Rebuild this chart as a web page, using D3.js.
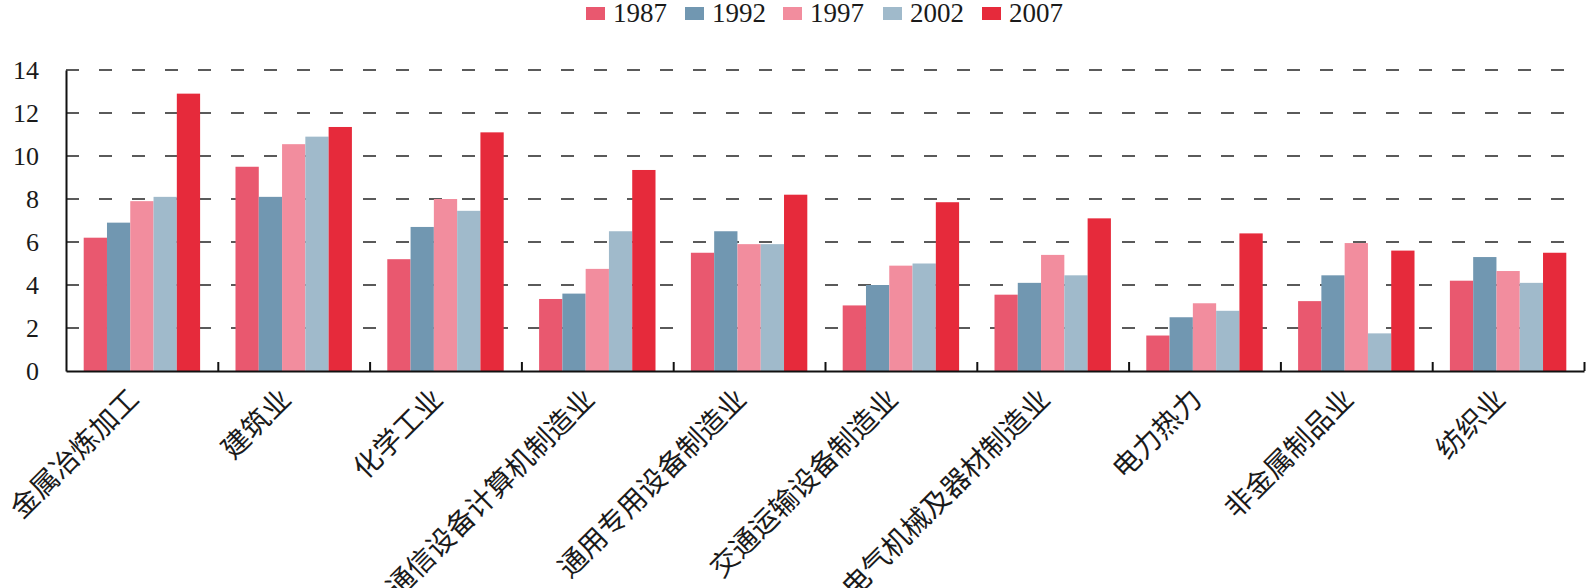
<!DOCTYPE html>
<html>
<head>
<meta charset="utf-8">
<script src="https://cdn.jsdelivr.net/npm/d3@7"></script>
<style>
  body { margin: 0; background: #fff; }
  svg { display: block; }
</style>
</head>
<body>
<script>
// 各行业数据 (1987-2007)
var categories = ["金属冶炼加工", "建筑业", "化学工业", "通信设备计算机制造业", "通用专用设备制造业",
  "交通运输设备制造业", "电气机械及器材制造业", "电力热力", "非金属制品业", "纺织业"];
var years = ["1987", "1992", "1997", "2002", "2007"];
var v1987 = [6.2, 9.5, 5.2, 3.35, 5.5, 3.05, 3.55, 1.65, 3.25, 4.2];
var v1992 = [6.9, 8.1, 6.7, 3.6, 6.5, 4.0, 4.1, 2.5, 4.45, 5.3];
var v1997 = [7.9, 10.55, 8.0, 4.75, 5.9, 4.9, 5.4, 3.15, 5.95, 4.65];
var v2002 = [8.1, 10.9, 7.45, 6.5, 5.9, 5.0, 4.45, 2.8, 1.75, 4.1];
var v2007 = [12.9, 11.35, 11.1, 9.35, 8.2, 7.85, 7.1, 6.4, 5.6, 5.5];
var yTicks = [0, 2, 4, 6, 8, 10, 12, 14];

var series = [v1987, v1992, v1997, v2002, v2007];
var colors = ["#e9586f", "#7197b1", "#f28d9e", "#a0bacb", "#e62a3b"];

var W = 1586, H = 588;
var plot = { x0: 66, x1: 1584, y0: 70, y1: 371 };

var svg = d3.select("body").append("svg").attr("width", W).attr("height", H);

var x0 = d3.scaleBand().domain(categories).range([plot.x0, plot.x1]).padding(0);
var x1 = d3.scaleBand().domain(years).range([0, x0.bandwidth()]).paddingInner(0).paddingOuter(0.76);
var y = d3.scaleLinear().domain([0, 14]).range([plot.y1, plot.y0]);
var color = d3.scaleOrdinal().domain(years).range(colors);

// gridlines punteadas
svg.append("g").selectAll("line").data(yTicks.slice(1)).enter().append("line")
  .attr("x1", plot.x0).attr("x2", plot.x1)
  .attr("y1", function (d) { return y(d); }).attr("y2", function (d) { return y(d); })
  .attr("stroke", "#5a5a5a").attr("stroke-width", 2).attr("stroke-dasharray", "13,20");

// barras
var rows = [];
categories.forEach(function (c, i) {
  years.forEach(function (yr, j) {
    rows.push({ cat: c, year: yr, value: series[j][i] });
  });
});

svg.append("g").selectAll("rect").data(rows).enter().append("rect")
  .attr("x", function (d) { return x0(d.cat) + x1(d.year); })
  .attr("y", function (d) { return y(d.value); })
  .attr("width", x1.bandwidth())
  .attr("height", function (d) { return y(0) - y(d.value); })
  .attr("fill", function (d) { return color(d.year); });

// eje Y
var yAxis = svg.append("g").attr("transform", "translate(" + plot.x0 + ",0)")
  .call(d3.axisLeft(y).tickValues(yTicks).tickSize(0).tickPadding(27));
yAxis.select(".domain").attr("stroke", "#111").attr("stroke-width", 2);
yAxis.selectAll("text").attr("font-family", "'Liberation Serif', 'Times New Roman', serif")
  .attr("font-size", "26px").attr("fill", "#1a1a1a");

// eje X con marcas en los límites de cada categoría
var xb = d3.scaleLinear().domain([0, categories.length]).range([plot.x0, plot.x1]);
var xAxis = svg.append("g").attr("transform", "translate(0," + plot.y1 + ")")
  .call(d3.axisBottom(xb).tickValues(d3.range(1, categories.length + 1)).tickSize(-9).tickSizeOuter(0).tickFormat(""));
xAxis.select(".domain").attr("stroke", "#111").attr("stroke-width", 2);
xAxis.selectAll(".tick line").attr("stroke", "#111").attr("stroke-width", 2);

// etiquetas de categoría
svg.append("g").selectAll("text").data(categories).enter().append("text")
  .attr("transform", function (d) {
    return "translate(" + (x0(d) + x0.bandwidth() / 2 - 1) + ",401) rotate(-45)";
  })
  .attr("text-anchor", "end")
  .attr("font-family", "'Noto Sans CJK SC', sans-serif")
  .attr("font-size", "28px")
  .attr("fill", "#1a1a1a")
  .text(function (d) { return d; });

// leyenda
var legendX = [586, 685, 783, 883, 982];
var legend = svg.append("g").selectAll("g").data(years).enter().append("g")
  .attr("transform", function (d, i) { return "translate(" + legendX[i] + ",0)"; });
legend.append("rect").attr("x", 0).attr("y", 7).attr("width", 19).attr("height", 13)
  .attr("fill", function (d) { return color(d); });
legend.append("text").attr("x", 27).attr("y", 22)
  .attr("font-family", "'Liberation Serif', 'Times New Roman', serif")
  .attr("font-size", "27px").attr("fill", "#1a1a1a")
  .text(function (d) { return d; });
</script>
</body>
</html>
